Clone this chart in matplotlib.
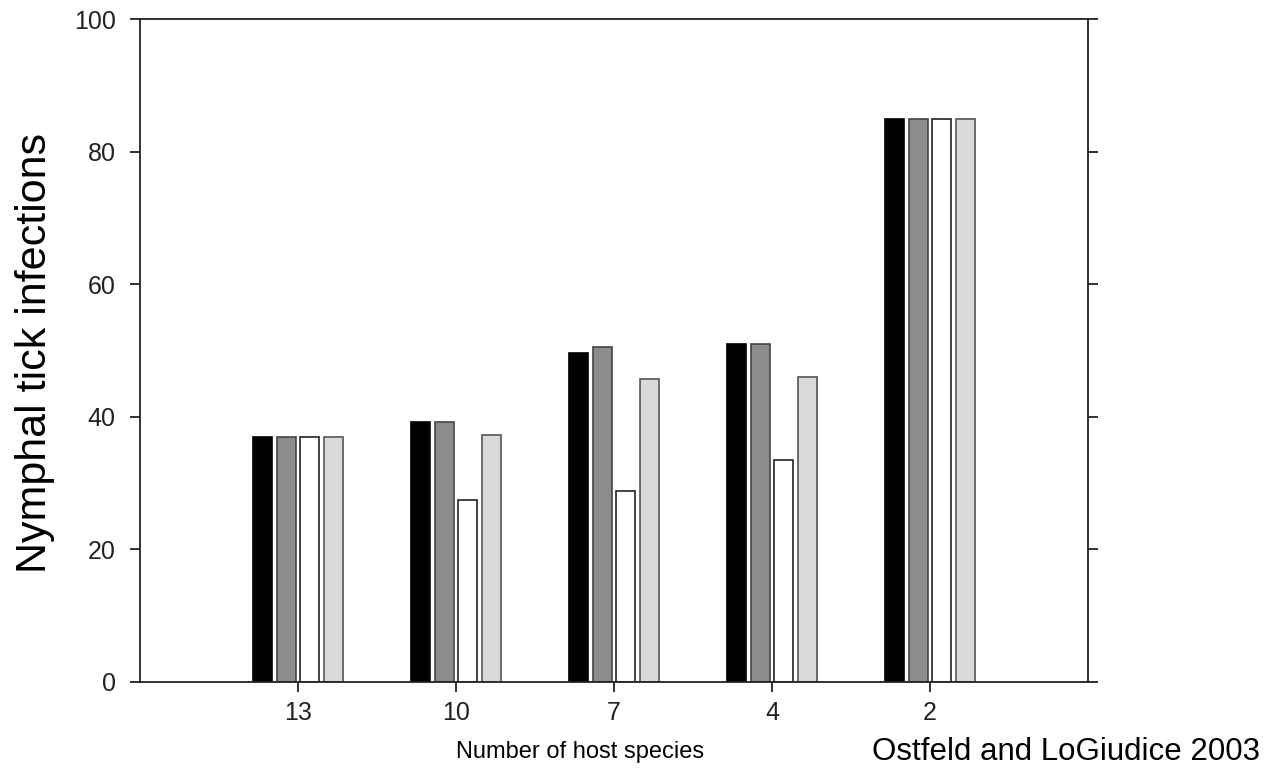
import matplotlib.pyplot as plt
import numpy as np

plt.rcParams['font.family'] = ['Liberation Sans', 'DejaVu Sans']

hosts = ['13', '10', '7', '4', '2']
series_a = [37.0, 39.3, 49.6, 51.0, 85.0]
series_b = [37.0, 39.3, 50.5, 51.0, 85.0]
series_c = [37.0, 27.5, 28.8, 33.5, 85.0]
series_d = [37.0, 37.2, 45.7, 46.0, 85.0]

fills = ['#000000', '#8c8c8c', '#ffffff', '#dadada']
edges = ['#000000', '#444444', '#222222', '#555555']

fig = plt.figure(figsize=(12.68, 7.68), dpi=100)
ax = fig.add_axes([0.1104, 0.112, 0.7476, 0.863])

x = np.arange(1, len(hosts) + 1)
width = 0.12
step = 0.15
for i, vals in enumerate([series_a, series_b, series_c, series_d]):
    ax.bar(x + (i - 1.5) * step, vals, width, color=fills[i],
           edgecolor=edges[i], linewidth=1.2)

ax.set_xlim(0, 6)
ax.set_ylim(0, 100)
ax.set_xticks(x)
ax.set_xticklabels(hosts)
ax.set_yticks(range(0, 101, 20))

for side in ['left', 'right', 'top', 'bottom']:
    ax.spines[side].set_linewidth(1.3)
    ax.spines[side].set_color('#222222')

ax.tick_params(axis='y', direction='out', length=7.5, width=1.3,
               labelsize=18, right=True, pad=10, colors='#222222')
ax.tick_params(axis='x', direction='out', length=7.5, width=1.3,
               labelsize=18, pad=6, colors='#222222')

ax.set_xlabel('Number of host species', fontsize=17, va='top')
ax.xaxis.set_label_coords(0.464, -0.089)
ax.set_ylabel('Nymphal tick infections', fontsize=31, va='center')
ax.yaxis.set_label_coords(-0.111, 0.497)

fig.text(0.9937, 0.0104, 'Ostfeld and LoGiudice 2003', fontsize=22.5,
         ha='right', va='baseline')

fig.savefig('out.png', dpi=100)
